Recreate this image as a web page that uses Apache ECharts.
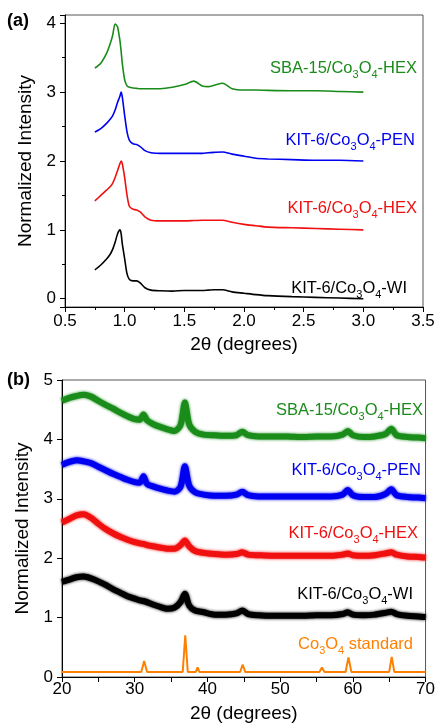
<!DOCTYPE html>
<html>
<head>
<meta charset="utf-8">
<script src="https://cdn.jsdelivr.net/npm/echarts@6/dist/echarts.min.js"></script>
<style>
  html, body { margin: 0; padding: 0; background: #fff; }
  #chart { width: 438px; height: 724px; }
</style>
</head>
<body>
<div id="chart"></div>
<script>
// panel (a): low angle XRD
const aAngles = [0.75, 0.8, 0.85, 0.88, 0.9, 0.92, 0.94, 0.96, 0.97, 0.98, 1.0, 1.02, 1.04, 1.07, 1.1, 1.13, 1.17, 1.22, 1.3, 1.4, 1.5, 1.58, 1.65, 1.7, 1.75, 1.82, 1.9, 2.0, 2.1, 2.2, 2.4, 2.6, 2.8, 3.0]
const aSBA = [3.35, 3.42, 3.57, 3.71, 3.83, 3.99, 3.95, 3.75, 3.6, 3.42, 3.18, 3.09, 3.07, 3.06, 3.055, 3.05, 3.05, 3.05, 3.05, 3.07, 3.11, 3.16, 3.09, 3.08, 3.10, 3.13, 3.05, 3.03, 3.03, 3.025, 3.02, 3.02, 3.01, 3.0]
const aPEN = [2.42, 2.47, 2.55, 2.61, 2.66, 2.74, 2.85, 2.94, 3.0, 2.93, 2.66, 2.42, 2.30, 2.25, 2.24, 2.21, 2.15, 2.12, 2.11, 2.11, 2.11, 2.11, 2.11, 2.12, 2.125, 2.13, 2.10, 2.07, 2.04, 2.03, 2.02, 2.01, 2.01, 2.0]
const aHEX = [1.42, 1.50, 1.58, 1.63, 1.68, 1.76, 1.86, 1.96, 2.0, 1.96, 1.76, 1.50, 1.34, 1.30, 1.29, 1.26, 1.19, 1.14, 1.13, 1.13, 1.13, 1.135, 1.14, 1.14, 1.14, 1.14, 1.11, 1.08, 1.06, 1.04, 1.03, 1.02, 1.01, 1.0]
const aWI = [0.42, 0.49, 0.58, 0.65, 0.72, 0.82, 0.94, 1.0, 0.95, 0.80, 0.58, 0.36, 0.28, 0.26, 0.26, 0.23, 0.16, 0.125, 0.115, 0.11, 0.12, 0.12, 0.12, 0.125, 0.13, 0.13, 0.10, 0.08, 0.06, 0.045, 0.03, 0.02, 0.01, 0.0]

// panel (b): wide angle XRD
const bAngles = [20, 21, 22, 23, 24, 25, 26, 27, 28, 29, 30, 30.7, 31.2, 31.7, 32.5, 33.5, 34.5, 35.5, 36.3, 36.9, 37.5, 38.3, 39.5, 41, 42.5, 44, 44.8, 45.6, 47, 49, 51, 53, 55, 57, 58.6, 59.3, 60, 61.5, 63, 64.5, 65.3, 66, 67.5, 69, 70]
const bSBA = [4.65, 4.70, 4.73, 4.75, 4.72, 4.65, 4.58, 4.52, 4.45, 4.39, 4.34, 4.33, 4.42, 4.32, 4.26, 4.21, 4.17, 4.14, 4.24, 4.62, 4.25, 4.13, 4.08, 4.07, 4.06, 4.07, 4.13, 4.07, 4.05, 4.05, 4.05, 4.04, 4.05, 4.05, 4.08, 4.14, 4.07, 4.04, 4.05, 4.09, 4.18, 4.07, 4.04, 4.03, 4.02]
const bPEN = [3.57, 3.62, 3.65, 3.63, 3.60, 3.54, 3.48, 3.42, 3.37, 3.32, 3.28, 3.27, 3.38, 3.25, 3.21, 3.17, 3.14, 3.12, 3.20, 3.55, 3.22, 3.11, 3.07, 3.05, 3.05, 3.07, 3.12, 3.06, 3.04, 3.04, 3.04, 3.04, 3.04, 3.04, 3.07, 3.15, 3.06, 3.03, 3.03, 3.08, 3.16, 3.06, 3.03, 3.02, 3.01]
const bHEX = [2.60, 2.66, 2.72, 2.74, 2.68, 2.58, 2.49, 2.42, 2.36, 2.31, 2.27, 2.25, 2.24, 2.22, 2.20, 2.18, 2.16, 2.16, 2.22, 2.30, 2.20, 2.12, 2.09, 2.07, 2.06, 2.07, 2.10, 2.06, 2.05, 2.04, 2.04, 2.04, 2.04, 2.04, 2.06, 2.08, 2.05, 2.04, 2.05, 2.08, 2.10, 2.06, 2.03, 2.02, 2.01]
const bWI = [1.60, 1.64, 1.68, 1.69, 1.66, 1.61, 1.55, 1.48, 1.42, 1.36, 1.32, 1.29, 1.28, 1.26, 1.22, 1.18, 1.15, 1.17, 1.26, 1.40, 1.20, 1.12, 1.09, 1.05, 1.05, 1.07, 1.12, 1.06, 1.04, 1.03, 1.03, 1.03, 1.04, 1.04, 1.06, 1.09, 1.05, 1.04, 1.05, 1.08, 1.10, 1.06, 1.03, 1.02, 1.01]

// Co3O4 reference pattern
const stdAngles = [20, 30.9, 31.3, 31.7, 36.6, 36.95, 37.3, 38.4, 38.65, 38.9, 44.5, 44.85, 45.2, 55.4, 55.75, 56.1, 59.0, 59.4, 59.8, 65.0, 65.35, 65.7, 70]
const stdValues = [0.085, 0.085, 0.27, 0.085, 0.085, 0.70, 0.085, 0.085, 0.16, 0.085, 0.085, 0.21, 0.085, 0.085, 0.16, 0.085, 0.085, 0.33, 0.085, 0.085, 0.34, 0.085, 0.085]

const FONT = 'Liberation Sans, Arial, Helvetica, sans-serif'
const GREEN = '#1a8c1a'
const BLUE = '#0000f0'
const RED = '#f01010'
const BLACK = '#000000'
const ORANGE = '#ff8000'

const chart = echarts.init(document.getElementById('chart'), null, { renderer: 'canvas' })

function zip(xs, ys) {
  return xs.map((x, i) => [x, ys[i]])
}

// label with subscripts, e.g. Co3O4
function subLabel(pre, post, color, right, y) {
  return {
    type: 'text',
    right: 438 - right,
    top: y - 11,
    style: {
      text: '{n|' + pre + 'Co}{s|3}{n|O}{s|4}{n|' + post + '}',
      fill: color,
      rich: {
        n: { fontSize: 16.5, fontFamily: FONT, fill: color, lineHeight: 20, verticalAlign: 'bottom' },
        s: { fontSize: 11, fontFamily: FONT, fill: color, lineHeight: 11, verticalAlign: 'bottom', padding: [0, 0, -3, 0] }
      }
    }
  }
}

const axisCommon = {
  axisLine: { show: true, onZero: false, lineStyle: { color: '#000', width: 1 } },
  axisTick: { show: true, inside: false, length: 5, lineStyle: { color: '#000' } },
  axisLabel: { color: '#000', fontSize: 17, fontFamily: FONT },
  splitLine: { show: false },
  nameTextStyle: { color: '#000', fontSize: 19, fontFamily: FONT }
}

function lineSeries(name, xi, yi, xs, ys, color, width, fuzz) {
  return {
    name: name,
    type: 'line',
    xAxisIndex: xi,
    yAxisIndex: yi,
    data: zip(xs, ys),
    showSymbol: false,
    smooth: 0.25,
    lineStyle: { color: color, width: width, shadowColor: fuzz ? color : 'transparent', shadowBlur: fuzz || 0 },
    itemStyle: { color: color },
    silent: true,
    animation: false
  }
}

const option = {
  backgroundColor: '#fff',
  animation: false,
  grid: [
    { left: 65, right: 15, top: 15, height: 292, show: true, borderColor: '#555', borderWidth: 1 },
    { left: 62, right: 11, top: 380, height: 297, show: true, borderColor: '#555', borderWidth: 1 }
  ],
  xAxis: [
    Object.assign({}, axisCommon, {
      gridIndex: 0, type: 'value', min: 0.5, max: 3.5, interval: 0.5,
      name: '2θ (degrees)', nameLocation: 'middle', nameGap: 28,
      minorTick: { show: true, splitNumber: 2, length: 3, lineStyle: { color: '#000' } },
      axisLabel: Object.assign({}, axisCommon.axisLabel, { margin: 6, formatter: v => v.toFixed(1) })
    }),
    Object.assign({}, axisCommon, {
      gridIndex: 1, type: 'value', min: 20, max: 70, interval: 10,
      name: '2θ (degrees)', nameLocation: 'middle', nameGap: 27,
      minorTick: { show: true, splitNumber: 2, length: 5, lineStyle: { color: '#000' } },
      axisLabel: Object.assign({}, axisCommon.axisLabel, { margin: 4 })
    })
  ],
  yAxis: [
    Object.assign({}, axisCommon, {
      gridIndex: 0, type: 'value', min: -0.12, max: 4.12, minInterval: 1, maxInterval: 1,
      name: 'Normalized Intensity', nameLocation: 'middle', nameGap: 25,
      minorTick: { show: true, splitNumber: 2, length: 3, lineStyle: { color: '#000' } },
      axisLabel: Object.assign({}, axisCommon.axisLabel, {
        margin: 9, showMinLabel: false, showMaxLabel: false,
        formatter: v => (Math.abs(v - Math.round(v)) < 1e-6 ? String(Math.round(v)) : '')
      })
    }),
    Object.assign({}, axisCommon, {
      gridIndex: 1, type: 'value', min: 0, max: 5, interval: 1,
      name: 'Normalized Intensity', nameLocation: 'middle', nameGap: 24,
      axisLabel: Object.assign({}, axisCommon.axisLabel, { margin: 9 })
    })
  ],
  series: [
    lineSeries('SBA-15/Co3O4-HEX', 0, 0, aAngles, aSBA, GREEN, 1.6),
    lineSeries('KIT-6/Co3O4-PEN', 0, 0, aAngles, aPEN, BLUE, 1.6),
    lineSeries('KIT-6/Co3O4-HEX', 0, 0, aAngles, aHEX, RED, 1.6),
    lineSeries('KIT-6/Co3O4-WI', 0, 0, aAngles, aWI, BLACK, 1.6),
    lineSeries('SBA-15/Co3O4-HEX', 1, 1, bAngles, bSBA, GREEN, 6, 3),
    lineSeries('KIT-6/Co3O4-PEN', 1, 1, bAngles, bPEN, BLUE, 6, 3),
    lineSeries('KIT-6/Co3O4-HEX', 1, 1, bAngles, bHEX, RED, 6, 3),
    lineSeries('KIT-6/Co3O4-WI', 1, 1, bAngles, bWI, BLACK, 6, 3),
    Object.assign(lineSeries('Co3O4 standard', 1, 1, stdAngles, stdValues, ORANGE, 2), { smooth: false })
  ],
  graphic: [
    { type: 'text', left: 7, top: 12, style: { text: '(a)', fontSize: 18, fontWeight: 'bold', fontFamily: FONT, fill: '#000' } },
    { type: 'text', left: 7, top: 371, style: { text: '(b)', fontSize: 18, fontWeight: 'bold', fontFamily: FONT, fill: '#000' } },
    subLabel('SBA-15/', '-HEX', GREEN, 417, 71),
    subLabel('KIT-6/', '-PEN', BLUE, 415, 143),
    subLabel('KIT-6/', '-HEX', RED, 417, 211),
    subLabel('KIT-6/', '-WI', BLACK, 407, 291),
    subLabel('SBA-15/', '-HEX', GREEN, 423, 413),
    subLabel('KIT-6/', '-PEN', BLUE, 421, 473),
    subLabel('KIT-6/', '-HEX', RED, 418, 536),
    subLabel('KIT-6/', '-WI', BLACK, 413, 597),
    subLabel('', ' standard', ORANGE, 413, 647)
  ]
}

chart.setOption(option)
</script>
</body>
</html>
